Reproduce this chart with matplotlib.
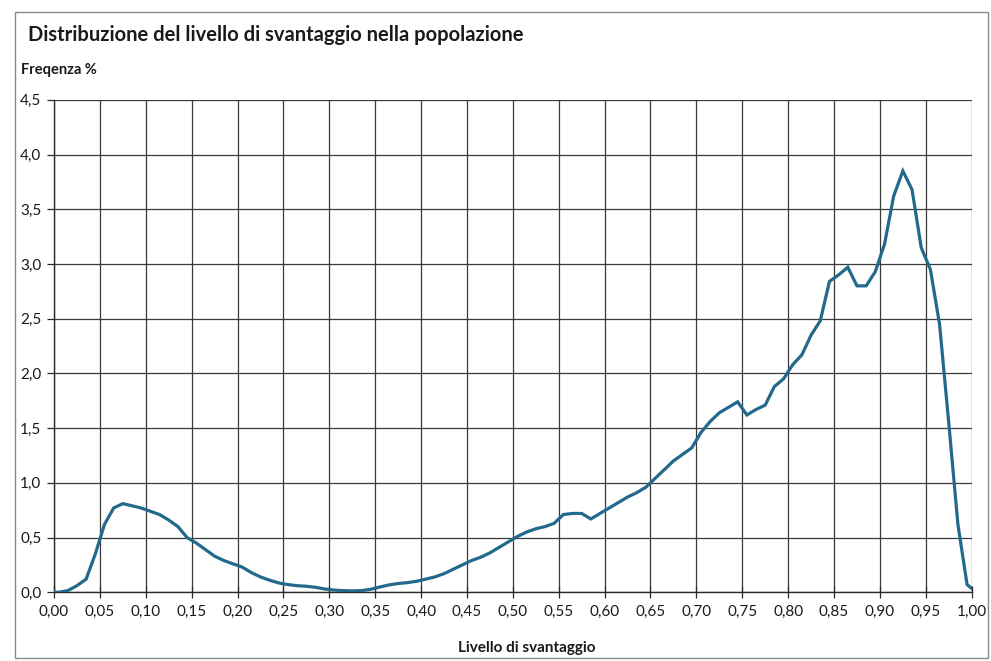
import numpy as np
import matplotlib
matplotlib.use("Agg")
import matplotlib.pyplot as plt
from matplotlib.patches import Rectangle

plt.rcParams['font.family'] = ['Lato', 'DejaVu Sans']

# livello di svantaggio (centri delle classi) e frequenza %
livello = np.round(np.arange(-0.005, 1.01, 0.01), 3)
frequenza = [
    0.0, 0.0, 0.015, 0.06, 0.12, 0.35, 0.62, 0.77, 0.81, 0.79,
    0.77, 0.74, 0.71, 0.66, 0.60, 0.50, 0.45, 0.39, 0.33, 0.29,
    0.26, 0.23, 0.18, 0.14, 0.11, 0.085, 0.07, 0.06, 0.055, 0.045,
    0.03, 0.02, 0.015, 0.012, 0.015, 0.027, 0.048, 0.067, 0.08, 0.088,
    0.10, 0.12, 0.14, 0.17, 0.21, 0.25, 0.29, 0.32, 0.36, 0.41,
    0.46, 0.51, 0.55, 0.58, 0.60, 0.63, 0.71, 0.72, 0.72, 0.67,
    0.72, 0.77, 0.82, 0.87, 0.91, 0.96, 1.04, 1.12, 1.20, 1.26,
    1.32, 1.46, 1.56, 1.64, 1.69, 1.74, 1.62, 1.67, 1.71, 1.88,
    1.95, 2.08, 2.17, 2.35, 2.48, 2.84, 2.90, 2.97, 2.80, 2.80,
    2.93, 3.18, 3.62, 3.85, 3.68, 3.15, 2.95, 2.45, 1.55, 0.62,
    0.07, 0.0,
]
assert len(livello) == len(frequenza), (len(livello), len(frequenza))

x_ticks = [0.00, 0.05, 0.10, 0.15, 0.20, 0.25, 0.30, 0.35, 0.40, 0.45, 0.50,
           0.55, 0.60, 0.65, 0.70, 0.75, 0.80, 0.85, 0.90, 0.95, 1.00]
y_ticks = [0.0, 0.5, 1.0, 1.5, 2.0, 2.5, 3.0, 3.5, 4.0, 4.5]

fig = plt.figure(figsize=(9.91, 6.61), dpi=100)
ax = fig.add_axes([0.0545, 0.104, 0.926, 0.745])

ax.plot(livello, frequenza, color='#22698c', lw=2.3, solid_joinstyle='miter', zorder=3)

ax.set_xlim(0, 1)
ax.set_ylim(0, 4.5)
ax.set_xticks(x_ticks)
ax.set_xticklabels([("%.2f" % v).replace('.', ',') for v in x_ticks])
ax.set_yticks(y_ticks)
ax.set_yticklabels([("%.1f" % v).replace('.', ',') for v in y_ticks])
ax.grid(True, color='#3a3a3a', lw=0.9)
ax.set_axisbelow(True)

for s in ['top', 'right']:
    ax.spines[s].set_visible(False)
for s in ['left', 'bottom']:
    ax.spines[s].set_color('#2a2a2a')
    ax.spines[s].set_linewidth(1.0)

ax.tick_params(axis='y', length=5, width=0.9, color='#2a2a2a', labelsize=11, pad=4, labelcolor='#1a1a1a')
ax.tick_params(axis='x', direction='inout', length=8, width=0.9, color='#2a2a2a', labelsize=11, pad=5, labelcolor='#1a1a1a')

fig.text(0.028, 0.947, "Distribuzione del livello di svantaggio nella popolazione",
         fontsize=14.5, fontweight='bold', va='center', ha='left', color='#1a1a1a')
fig.text(0.021, 0.894, "Freqenza %", fontsize=10.5, fontweight='bold', va='center', ha='left', color='#1a1a1a')
fig.text(0.532, 0.02, "Livello di svantaggio", fontsize=11, fontweight='bold', va='center', ha='center', color='#1a1a1a')

fig.patches.append(Rectangle((0.015, 0.004), 0.982, 0.978, transform=fig.transFigure,
                             fill=False, edgecolor='#8a8a8a', lw=1.0))

fig.savefig("out.png", dpi=100)
